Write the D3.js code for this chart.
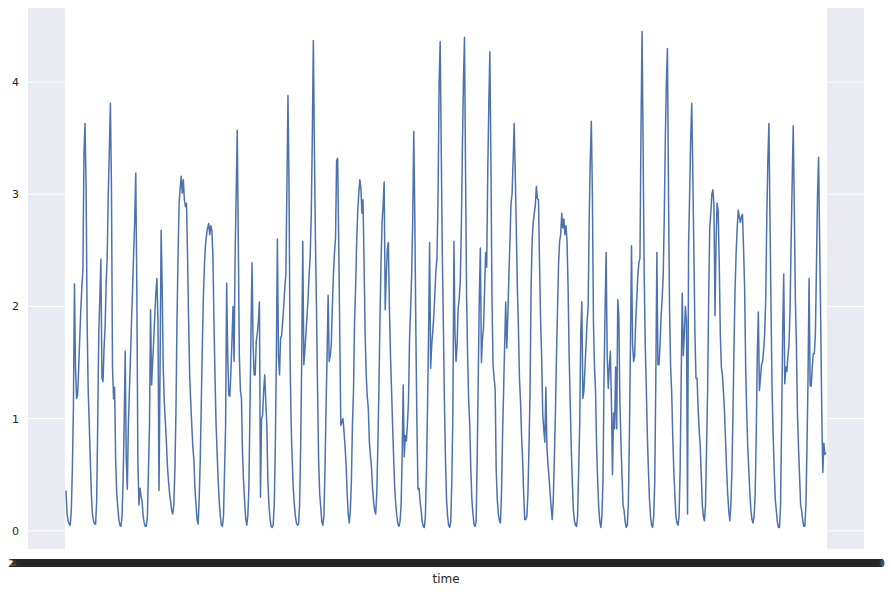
<!DOCTYPE html>
<html>
<head>
<meta charset="utf-8">
<script src="https://cdn.jsdelivr.net/npm/d3@7"></script>
<style>
  body { margin: 0; background: #fff; }
  text { font-family: "DejaVu Sans", sans-serif; fill: #262626; }
</style>
</head>
<body>
<div id="chart"></div>
<script>
// 30 days of hourly readings
var days = ["2010-01-01", "2010-01-02", "2010-01-03", "2010-01-04", "2010-01-05", "2010-01-06",
    "2010-01-07", "2010-01-08", "2010-01-09", "2010-01-10", "2010-01-11", "2010-01-12",
    "2010-01-13", "2010-01-14", "2010-01-15", "2010-01-16", "2010-01-17", "2010-01-18",
    "2010-01-19", "2010-01-20", "2010-01-21", "2010-01-22", "2010-01-23", "2010-01-24",
    "2010-01-25", "2010-01-26", "2010-01-27", "2010-01-28", "2010-01-29", "2010-01-30"];

var hours = d3.range(24).map(function(h) { return (h < 10 ? "0" : "") + h + ":00:00"; });

// one row per day, 24 values each
var power = [
    0.36,0.15,0.09,0.06,0.05,0.18,0.54,1.09,2.2,1.45,1.18,1.21,1.45,1.71,1.97,2.17,2.33,3.36,3.63,3.07,1.85,1.25,0.95,0.63,
    0.33,0.15,0.09,0.06,0.06,0.26,0.95,1.76,2.07,2.42,1.36,1.33,1.63,1.81,2.21,2.45,3.0,3.4,3.81,3.07,1.46,1.18,1.28,0.63,
    0.33,0.21,0.1,0.05,0.04,0.13,0.44,0.94,1.6,0.64,0.37,0.94,1.25,1.55,1.87,2.16,2.48,2.76,3.19,2.16,0.63,0.23,0.38,0.31,
    0.26,0.13,0.07,0.04,0.04,0.13,0.54,0.94,1.97,1.3,1.51,1.7,1.92,2.12,2.25,1.87,0.36,1.46,2.68,2.16,1.46,1.15,0.97,0.79,
    0.57,0.44,0.33,0.26,0.18,0.15,0.23,0.54,1.05,1.87,2.45,2.92,3.05,3.16,3.01,3.13,2.95,2.89,2.92,2.45,1.87,1.39,1.15,0.94,
    0.75,0.63,0.38,0.23,0.1,0.06,0.28,0.63,1.15,1.66,2.09,2.38,2.55,2.64,2.7,2.74,2.64,2.72,2.68,2.45,1.85,1.36,0.94,0.69,
    0.44,0.26,0.13,0.05,0.04,0.13,0.54,0.94,2.21,1.56,1.21,1.2,1.41,1.69,2.0,1.51,2.45,3.0,3.57,2.58,1.56,1.25,1.18,0.69,
    0.44,0.26,0.11,0.05,0.13,0.38,1.05,1.76,2.39,1.66,1.39,1.39,1.69,1.76,1.87,2.04,0.3,1.0,1.03,1.25,1.39,1.15,0.94,0.44,
    0.23,0.11,0.04,0.03,0.05,0.23,0.74,1.54,2.6,1.56,1.39,1.72,1.74,1.87,2.0,2.17,2.28,3.07,3.88,3.07,1.54,0.95,0.63,0.38,
    0.24,0.13,0.07,0.05,0.06,0.23,0.74,1.54,2.58,1.48,1.61,1.76,1.91,2.07,2.28,2.45,2.8,3.5,4.37,3.4,2.58,1.97,1.25,0.63,
    0.33,0.21,0.08,0.05,0.13,0.54,1.09,1.56,2.1,1.51,1.56,1.66,2.0,2.28,2.48,2.61,3.3,3.32,2.58,1.76,0.94,0.97,1.0,0.89,
    0.75,0.59,0.33,0.15,0.07,0.18,0.44,0.95,1.25,1.87,2.17,2.58,2.85,3.01,3.13,3.05,2.83,2.95,2.38,1.76,1.39,1.2,1.09,0.79,
    0.67,0.57,0.38,0.26,0.18,0.15,0.33,0.74,1.25,1.87,2.38,2.74,2.9,3.11,1.97,2.28,2.51,2.57,1.97,1.56,1.25,0.94,0.64,0.38,
    0.23,0.13,0.06,0.04,0.08,0.23,0.64,1.3,0.66,0.85,0.8,0.95,1.15,1.7,1.97,2.28,2.76,3.56,2.8,1.76,0.94,0.37,0.38,0.26,
    0.18,0.08,0.04,0.03,0.13,0.54,1.09,1.76,2.57,1.45,1.66,1.78,1.92,2.12,2.33,2.43,3.0,4.0,4.36,3.4,2.48,1.85,1.15,0.64,
    0.28,0.13,0.05,0.03,0.08,0.44,1.05,2.58,1.76,1.51,1.66,1.98,2.07,2.23,2.7,3.4,4.0,4.40,3.2,2.07,1.54,1.15,0.94,0.54,
    0.28,0.15,0.06,0.04,0.08,0.64,1.36,2.07,2.52,1.5,1.71,1.81,2.15,2.48,2.35,3.2,3.8,4.27,3.3,2.07,1.48,1.36,1.27,0.54,
    0.28,0.15,0.09,0.07,0.33,0.85,1.25,1.66,2.04,1.63,1.92,2.28,2.58,2.92,3.0,3.3,3.63,3.2,2.7,2.17,1.82,1.36,1.15,0.85,
    0.63,0.33,0.1,0.1,0.13,0.33,0.74,1.24,2.17,2.58,2.75,2.83,2.9,3.07,2.96,2.95,2.38,1.87,1.54,1.05,0.9,0.79,1.28,0.74,
    0.59,0.48,0.33,0.21,0.1,0.28,0.64,1.05,1.56,1.97,2.38,2.58,2.64,2.83,2.7,2.78,2.64,2.72,2.58,2.17,1.56,1.15,0.74,0.44,
    0.18,0.09,0.05,0.04,0.13,0.54,0.95,1.76,2.04,1.18,1.25,1.46,1.66,1.87,2.0,2.8,3.3,3.65,3.0,1.85,1.46,1.24,0.74,0.44,
    0.21,0.08,0.03,0.13,0.44,1.36,1.97,2.48,1.56,1.27,1.46,1.6,1.15,0.5,1.05,0.91,1.46,0.91,2.06,1.92,1.15,0.8,0.49,0.23,
    0.18,0.08,0.03,0.05,0.23,0.85,1.66,2.54,1.66,1.51,1.56,1.87,2.07,2.28,2.39,2.43,3.6,4.45,3.4,2.28,1.66,1.27,0.85,0.54,
    0.28,0.13,0.05,0.03,0.13,0.44,1.36,2.48,1.48,1.48,1.66,1.91,2.07,2.28,2.8,3.5,4.0,4.3,3.0,1.97,1.46,1.24,0.85,0.54,
    0.33,0.13,0.07,0.05,0.13,0.54,1.36,2.12,1.56,1.76,2.0,1.87,0.15,2.55,3.0,3.5,3.81,3.2,2.48,1.76,1.36,1.36,1.1,0.9,
    0.76,0.49,0.23,0.13,0.09,0.23,0.74,1.25,2.07,2.7,2.83,3.0,3.04,2.9,1.92,2.58,2.92,2.85,2.38,1.76,1.46,1.39,1.24,1.05,
    0.8,0.54,0.33,0.18,0.09,0.23,0.54,1.05,1.66,2.17,2.48,2.7,2.86,2.8,2.75,2.8,2.82,2.52,2.17,1.46,1.05,0.74,0.54,0.33,
    0.18,0.1,0.07,0.13,0.33,0.85,1.56,1.95,1.25,1.36,1.48,1.51,1.61,1.76,2.07,2.8,3.3,3.63,2.8,1.97,1.25,0.85,0.54,0.28,
    0.18,0.08,0.03,0.03,0.23,0.95,1.76,2.29,1.31,1.46,1.42,1.56,1.66,1.97,2.58,3.1,3.61,2.9,2.07,1.66,1.05,0.74,0.49,0.23,
    0.18,0.09,0.04,0.04,0.23,0.74,1.36,2.25,1.29,1.29,1.46,1.58,1.58,1.76,2.38,3.0,3.33,2.58,1.87,1.05,0.52,0.78,0.68,0.7
];

var yTicks = [0, 1, 2, 3, 4];

var times = [];
days.forEach(function(d) { hours.forEach(function(h) { times.push(d + " " + h); }); });
var data = times.map(function(t, i) { return {time: t, value: power[i]}; });

var svg_width = 891, svg_height = 594;
var svg = d3.select("#chart").append("svg")
    .attr("width", svg_width)
    .attr("height", svg_height);

var margin = {top: 8, right: 27, bottom: 45, left: 28},
    width = svg_width - margin.left - margin.right,
    height = svg_height - margin.top - margin.bottom;

var g = svg.append("g").attr("transform", "translate(" + margin.left + "," + margin.top + ")");

// categorical x like matplotlib string axis, 5% margins
var x = d3.scalePoint()
    .domain(times)
    .range([0, width])
    .padding(0.05 * (times.length - 1));

var y = d3.scaleLinear()
    .domain([-0.162, 4.66])
    .range([height, 0]);

g.append("rect")
    .attr("width", width)
    .attr("height", height)
    .attr("fill", "#eaeaf2");

// grid (white), one vertical line for every category
g.append("g")
    .selectAll("line")
    .data(times)
    .enter().append("line")
    .attr("x1", function(d) { return x(d); })
    .attr("x2", function(d) { return x(d); })
    .attr("y1", 0)
    .attr("y2", height)
    .attr("stroke", "#fff")
    .attr("stroke-width", 2.2);

g.append("g")
    .selectAll("line")
    .data(yTicks)
    .enter().append("line")
    .attr("x1", 0)
    .attr("x2", width)
    .attr("y1", function(d) { return y(d); })
    .attr("y2", function(d) { return y(d); })
    .attr("stroke", "#fff")
    .attr("stroke-width", 1);

var line = d3.line()
    .x(function(d) { return x(d.time); })
    .y(function(d) { return y(d.value); });

g.append("path")
    .datum(data)
    .attr("fill", "none")
    .attr("stroke", "#4c72b0")
    .attr("stroke-width", 1.5)
    .attr("stroke-linejoin", "round")
    .attr("d", line);

// axes
var yAxis = g.append("g")
    .call(d3.axisLeft(y).tickValues(yTicks).tickSize(0).tickPadding(9).tickFormat(d3.format("d")));
yAxis.select(".domain").remove();
yAxis.selectAll("text").attr("font-size", 11).attr("font-family", "DejaVu Sans").attr("fill", "#262626");

var xAxis = g.append("g")
    .attr("transform", "translate(0," + height + ")")
    .call(d3.axisBottom(x).tickSize(0).tickPadding(10));
xAxis.select(".domain").remove();
xAxis.selectAll("text").attr("font-size", 11).attr("font-family", "DejaVu Sans").attr("fill", "#262626");

svg.append("text")
    .attr("x", margin.left + width / 2)
    .attr("y", 583)
    .attr("text-anchor", "middle")
    .attr("font-size", 12)
    .text("time");
</script>
</body>
</html>
